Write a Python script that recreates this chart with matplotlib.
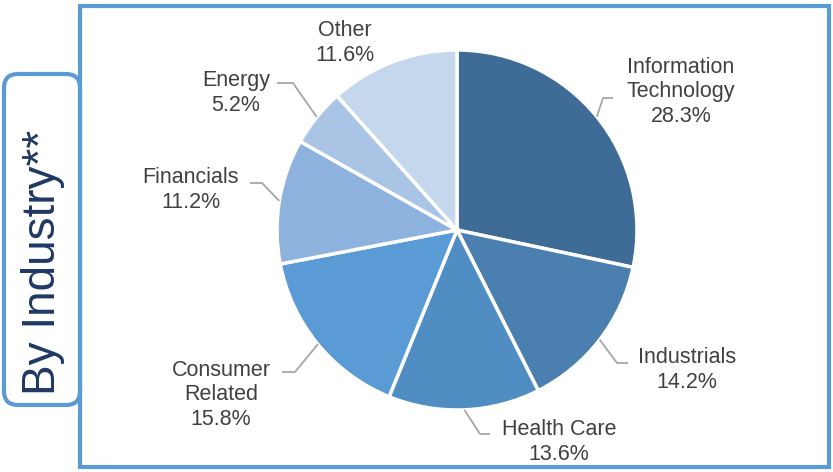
import numpy as np
import matplotlib.pyplot as plt
from matplotlib.patches import Rectangle, FancyBboxPatch

plt.rcParams['font.family'] = ['Liberation Sans', 'DejaVu Sans']

# data
industries = ['Information\nTechnology', 'Industrials', 'Health Care', 'Consumer\nRelated',
              'Financials', 'Energy', 'Other']
shares = [28.3, 14.2, 13.6, 15.8, 11.2, 5.2, 11.6]
colors = ['#3F6C97', '#4A7FB0', '#508DC3', '#5A9BD6', '#8CB2DD', '#AAC4E5', '#C5D7EC']

W, H = 833, 472


def Y(y):
    # image row -> data y
    return H - y


# label layout (image pixels): text centre, elbow, end of leader
label_pos = [(681, 92), (687, 370), (559, 442), (221, 395), (191, 190), (236, 93), (345, 43)]
elbows = [((603, 98), (613, 98)), ((617, 363), (628, 363)), ((480, 434), (490, 434)),
          ((295, 372), (282, 372)), ((262, 183), (250, 183)), ((293, 83), (277, 83)), None]

fig = plt.figure(figsize=(W / 100, H / 100), dpi=100)
ax = fig.add_axes([0, 0, 1, 1])

cx, cy, r = 457, Y(230), 180
wedges, _ = ax.pie(shares, colors=colors, startangle=90, counterclock=False,
                   center=(cx, cy), radius=r, normalize=True,
                   wedgeprops=dict(edgecolor='white', linewidth=2.5))

ax.set_xlim(0, W)
ax.set_ylim(0, H)
ax.set_aspect('equal')
ax.axis('off')

for w, name, val, pos, el in zip(wedges, industries, shares, label_pos, elbows):
    ax.text(pos[0], Y(pos[1]), f'{name}\n{val}%', ha='center', va='center',
            fontsize=15.5, color='#404040', linespacing=1.22)
    if el is None:
        continue
    mid = np.deg2rad((w.theta1 + w.theta2) / 2)
    sx, sy = cx + r * np.cos(mid), cy + r * np.sin(mid)
    xs = [sx, el[0][0], el[1][0]]
    ys = [sy, Y(el[0][1]), Y(el[1][1])]
    ax.plot(xs, ys, color='#A6A6A6', lw=1.3, solid_capstyle='butt')

# frames
ax.add_patch(Rectangle((80, Y(467)), 829 - 80, 467 - 5.5, fill=False,
                       edgecolor='#5B9BD5', lw=3))
ax.add_patch(FancyBboxPatch((4, Y(405)), 80 - 4, 405 - 74,
                            boxstyle='round,pad=0,rounding_size=14',
                            facecolor='white', edgecolor='#5B9BD5', lw=3))
ax.text(43, Y(262), 'By Industry**', rotation=90, ha='center', va='center',
        fontsize=33, color='#1F3864')

fig.savefig('out.png', dpi=100)
